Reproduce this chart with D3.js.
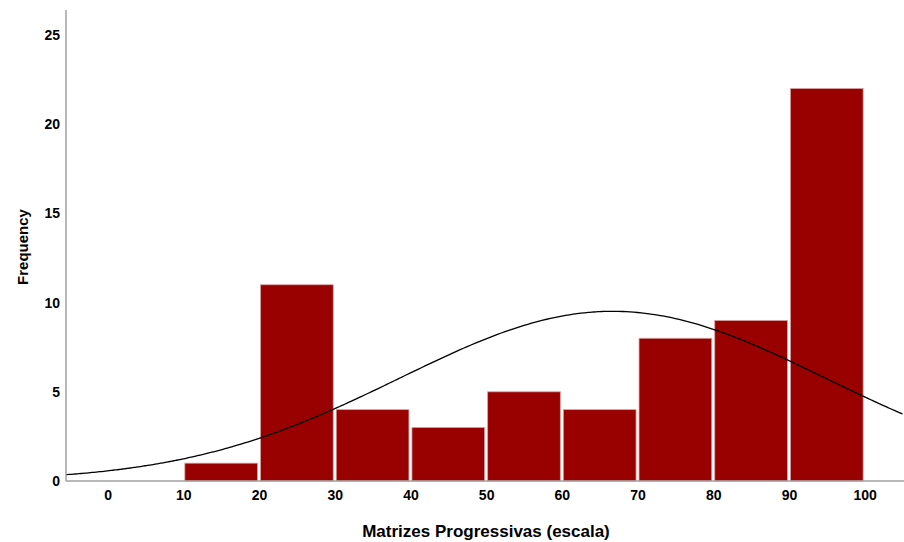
<!DOCTYPE html>
<html>
<head>
<meta charset="utf-8">
<script src="https://cdn.jsdelivr.net/npm/d3@7"></script>
<style>
  body { margin: 0; background: #fff; }
  text { font-family: Arial, "Liberation Sans", sans-serif; font-weight: bold; fill: #000; }
</style>
</head>
<body>
<div id="chart"></div>
<script>
// bins (lower edge) and their counts
const binStarts = [10, 20, 30, 40, 50, 60, 70, 80, 90];
const counts = [1, 11, 4, 3, 5, 4, 8, 9, 22];
const xTicks = [0, 10, 20, 30, 40, 50, 60, 70, 80, 90, 100];
const yTicks = [0, 5, 10, 15, 20, 25];
// normal curve parameters
const curveMean = 66.7;
const curveSd = 28.1;
const binWidth = 10;

const width = 904, height = 542;
const svg = d3.select("#chart").append("svg")
    .attr("width", width)
    .attr("height", height);

const plotLeft = 66, plotRight = 904, plotTop = 10, plotBottom = 481;

const x = d3.scaleLinear().domain([-5.5, 105.2]).range([plotLeft, plotRight]);
const y = d3.scaleLinear().domain([0, 25]).range([plotBottom, 35]);

const total = d3.sum(counts);

// bars
svg.append("g")
    .selectAll("rect")
    .data(binStarts)
    .enter()
    .append("rect")
    .attr("x", (d) => x(d) + 1.5)
    .attr("width", (d) => x(d + binWidth) - x(d) - 3)
    .attr("y", (d, i) => y(counts[i]))
    .attr("height", (d, i) => plotBottom - y(counts[i]))
    .attr("fill", "#990000")
    .attr("stroke", "#d9a0a0")
    .attr("stroke-width", 0.8);

// normal curve
const curvePts = d3.range(-5.5, 105.25, 0.5).map(v => {
    const z = (v - curveMean) / curveSd;
    return [v, total * binWidth / (curveSd * Math.sqrt(2 * Math.PI)) * Math.exp(-0.5 * z * z)];
});
svg.append("path")
    .datum(curvePts)
    .attr("fill", "none")
    .attr("stroke", "#000")
    .attr("stroke-width", 1.3)
    .attr("d", d3.line().x(d => x(d[0])).y(d => y(d[1])).curve(d3.curveBasis));

// axes
const xAxis = svg.append("g")
    .attr("transform", `translate(0,${plotBottom})`)
    .call(d3.axisBottom(x).tickValues(xTicks).tickSize(0).tickPadding(9));
xAxis.select(".domain").attr("stroke", "#a0a0a0").attr("stroke-width", 1.5)
    .attr("d", `M${plotLeft},0H${plotRight}`);
xAxis.selectAll("text").style("font-size", "14px").attr("fill", "#000");

const yAxis = svg.append("g")
    .attr("transform", `translate(${plotLeft},0)`)
    .call(d3.axisLeft(y).tickValues(yTicks).tickSize(0).tickPadding(6));
yAxis.select(".domain").attr("stroke", "#a0a0a0").attr("stroke-width", 1.5)
    .attr("d", `M0,${plotTop}V${plotBottom}`);
yAxis.selectAll("text").style("font-size", "14px").attr("fill", "#000");

// titles
svg.append("text")
    .attr("x", 486)
    .attr("y", 537)
    .attr("text-anchor", "middle")
    .style("font-size", "17px")
    .text("Matrizes Progressivas (escala)");

svg.append("text")
    .attr("transform", "translate(28,247) rotate(-90)")
    .attr("text-anchor", "middle")
    .style("font-size", "15px")
    .text("Frequency");
</script>
</body>
</html>
